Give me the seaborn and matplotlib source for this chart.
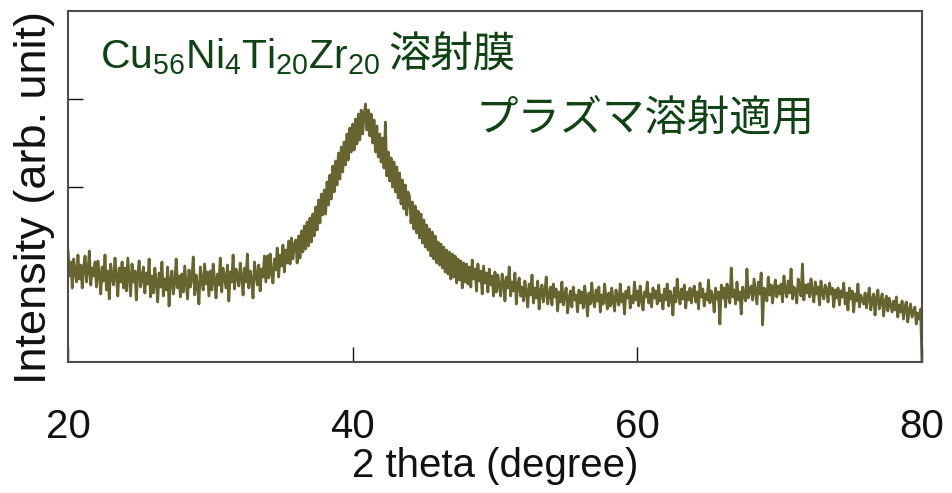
import numpy as np
import pandas as pd
import matplotlib
matplotlib.use("Agg")
import matplotlib.pyplot as plt
import seaborn as sns

# ---- data ----
# scan grid of 2 theta (degree), 0.1 degree step
two_theta = np.round(np.linspace(20.0, 80.0, 601), 1)

intensity = [
    112, 86, 100, 74, 103, 90, 80, 107, 83, 97, 74, 95, 106, 80, 91, 111, 77, 94, 86, 100,
    75, 101, 88, 68, 95, 81, 107, 72, 91, 63, 98, 85, 77, 104, 86, 66, 94, 80, 100, 74,
    94, 71, 104, 85, 66, 98, 80, 91, 62, 88, 101, 75, 83, 95, 69, 89, 78, 103, 65, 86,
    69, 94, 80, 60, 89, 75, 100, 66, 83, 72, 95, 56, 82, 91, 68, 79, 103, 74, 86, 65,
    88, 70, 96, 80, 63, 92, 75, 84, 105, 67, 87, 76, 58, 95, 81, 72, 98, 78, 90, 66,
    91, 72, 98, 82, 64, 88, 77, 104, 70, 94, 84, 74, 97, 61, 90, 80, 107, 73, 93, 85,
    76, 99, 85, 67, 94, 80, 108, 74, 91, 83, 64, 100, 88, 77, 97, 71, 93, 85, 106, 80,
    106, 84, 108, 89, 79, 103, 92, 114, 85, 107, 96, 117, 90, 112, 99, 121, 98, 124, 103, 118,
    122, 99, 126, 104, 131, 110, 136, 113, 140, 116, 144, 120, 148, 126, 155, 132, 162, 139, 168, 147,
    172, 148, 180, 157, 187, 163, 196, 170, 201, 177, 209, 183, 215, 190, 220, 197, 228, 202, 234, 210,
    238, 212, 243, 218, 248, 222, 252, 228, 246, 258, 232, 252, 226, 248, 219, 242, 210, 236, 205, 228,
    200, 224, 194, 240, 186, 210, 181, 204, 175, 200, 170, 195, 164, 189, 158, 182, 153, 177, 147, 170,
    165, 139, 160, 133, 156, 129, 151, 124, 148, 119, 142, 115, 137, 112, 133, 106, 130, 103, 126, 99,
    120, 97, 118, 94, 115, 90, 112, 88, 110, 83, 108, 85, 106, 79, 103, 82, 101, 74, 99, 80,
    98, 78, 95, 75, 102, 83, 93, 71, 98, 81, 91, 68, 96, 79, 89, 70, 93, 77, 86, 66,
    90, 70, 87, 76, 66, 88, 80, 61, 85, 74, 95, 66, 80, 71, 89, 58, 78, 84, 66, 75,
    61, 81, 70, 55, 78, 67, 87, 59, 74, 64, 81, 53, 71, 77, 60, 70, 85, 58, 67, 75,
    57, 78, 65, 73, 51, 70, 60, 80, 57, 67, 74, 49, 63, 71, 55, 75, 62, 67, 50, 72,
    59, 70, 54, 76, 64, 46, 69, 58, 79, 62, 55, 72, 61, 75, 50, 67, 58, 78, 64, 53,
    69, 56, 74, 62, 51, 72, 64, 57, 78, 60, 68, 48, 71, 64, 75, 54, 66, 59, 80, 62,
    71, 56, 76, 62, 52, 70, 65, 80, 59, 68, 55, 74, 64, 71, 58, 77, 61, 67, 53, 73,
    62, 78, 56, 71, 65, 47, 74, 60, 83, 66, 58, 73, 63, 77, 54, 70, 62, 74, 59, 71,
    76, 60, 70, 53, 79, 65, 73, 56, 68, 62, 82, 59, 71, 66, 50, 74, 63, 70, 38, 77,
    64, 74, 55, 78, 67, 59, 94, 65, 72, 58, 80, 62, 70, 48, 75, 67, 61, 93, 64, 72,
    76, 62, 83, 70, 58, 80, 68, 89, 37, 74, 72, 61, 85, 67, 77, 59, 73, 82, 65, 76,
    68, 78, 60, 86, 72, 65, 81, 69, 93, 63, 75, 71, 59, 83, 74, 66, 98, 62, 77, 69,
    78, 65, 83, 71, 60, 80, 68, 75, 57, 81, 70, 63, 77, 73, 60, 79, 68, 74, 55, 72,
    64, 74, 57, 71, 65, 79, 58, 69, 52, 74, 63, 71, 50, 68, 61, 78, 55, 67, 62, 58,
    69, 54, 65, 74, 52, 62, 68, 47, 64, 72, 53, 61, 68, 46, 60, 66, 51, 64, 57, 50,
    61, 52, 65, 45, 57, 50, 61, 43, 55, 60, 40, 52, 58, 45, 50, 55, 38, 49, 43, 53,
    0,
]

x_ticks = [20, 40, 60, 80]
x_tick_labels = ["20", "40", "60", "80"]
y_ticks = [87, 175, 263]

title_formula = r"Cu$_{56}$Ni$_{4}$Ti$_{20}$Zr$_{20}$"
title_jp = "溶射膜"
note_jp = "プラズマ溶射適用"

df = pd.DataFrame({"two_theta": two_theta, "intensity": intensity})

# ---- style ----
sns.set_theme(style="white")
plt.rcParams["font.family"] = ["Liberation Sans", "Noto Sans CJK JP", "DejaVu Sans"]
plt.rcParams["mathtext.fontset"] = "custom"
plt.rcParams["mathtext.rm"] = "Liberation Sans"
plt.rcParams["mathtext.it"] = "Liberation Sans:italic"
plt.rcParams["mathtext.bf"] = "Liberation Sans:bold"
plt.rcParams["mathtext.default"] = "regular"

W, H = 952, 493
fig = plt.figure(figsize=(W / 100, H / 100), dpi=100)
ax = fig.add_axes([68 / W, 1 - 362 / H, (922 - 68) / W, (362 - 11) / H])

line_color = "#67652f"
text_color = "#0f4314"

sns.lineplot(data=df, x="two_theta", y="intensity", ax=ax, color=line_color,
             linewidth=2.0, estimator=None, sort=False)

ax.set_xlim(20, 80)
ax.set_ylim(0, 351)
ax.set_xticks(x_ticks)
ax.set_xticklabels(x_tick_labels)
ax.set_yticks(y_ticks)
ax.set_yticklabels([])

for s in ax.spines.values():
    s.set_visible(True)
    s.set_color("#4d4d4d")
    s.set_linewidth(1.5)

ax.tick_params(axis="both", direction="in", length=10.8, width=1.0, color="#111111")
ax.tick_params(axis="x", labelsize=29, pad=33, labelcolor="#111111")
ax.tick_params(axis="y", left=True)
ax.tick_params(axis="x", bottom=True)

ax.set_xlabel("2 theta (degree)", fontsize=29, labelpad=1, color="#111111")
ax.set_ylabel("Intensity (arb. unit)", fontsize=32.5, color="#111111")
ax.yaxis.set_label_coords((55 - 68) / (922 - 68), (362 - 197) / 351)

fig.text(100 / W, 1 - 68 / H, title_formula, fontsize=29.4, color=text_color,
         ha="left", va="baseline")
fig.text(388 / W, 1 - 68 / H, title_jp, fontsize=30.5, color=text_color,
         ha="left", va="baseline")
fig.text(475 / W, 1 - 130 / H, note_jp, fontsize=30.5, color=text_color,
         ha="left", va="baseline")

fig.savefig("out.png", dpi=100)
